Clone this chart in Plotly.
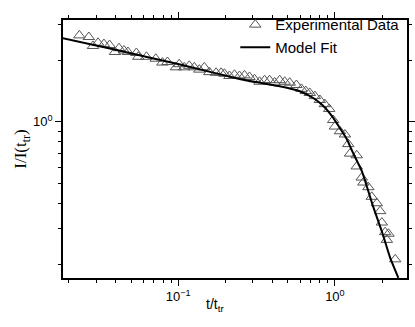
import plotly.graph_objects as go

t_exp = [0.0234, 0.0269, 0.0286, 0.0308, 0.0336, 0.0365, 0.0395, 0.0419, 0.0451,
         0.0478, 0.0541, 0.0556, 0.0627, 0.0719, 0.0793, 0.0854, 0.0967,
         0.1015, 0.1093, 0.1176, 0.1266, 0.1364, 0.1468, 0.158, 0.1745, 0.1878,
         0.1972, 0.2123, 0.2286, 0.246, 0.2649, 0.2852, 0.3069, 0.3305, 0.3558,
         0.3831, 0.4124, 0.444, 0.4781, 0.5147, 0.5681,
         0.6115, 0.6516, 0.6913, 0.7445, 0.8014, 0.8629, 0.9193, 0.9752, 1.0,
         1.077, 1.159, 1.217, 1.248, 1.378,
         1.378, 1.483, 1.519, 1.635, 1.719, 1.851, 1.943, 1.993, 2.092, 2.197,
         2.145, 2.425]
i_exp = [2.646, 2.598, 2.349, 2.434, 2.400, 2.374, 2.194, 2.291, 2.233,
         2.194, 2.171, 2.079, 2.079, 2.034, 1.948, 1.961, 1.846,
         1.913, 1.846, 1.878, 1.846, 1.799, 1.846, 1.749, 1.736, 1.736,
         1.717, 1.675, 1.698, 1.675, 1.686, 1.657, 1.614, 1.569, 1.597,
         1.597, 1.557, 1.597, 1.569, 1.553, 1.513,
         1.449, 1.413, 1.383, 1.335, 1.278, 1.219, 1.155, 1.019, 0.947,
         0.898, 0.866, 0.777, 0.698, 0.685,
         0.604, 0.533, 0.504, 0.478, 0.429, 0.399, 0.365, 0.321, 0.288, 0.283,
         0.264, 0.212]

# model fit curve
t_fit = [0.018, 0.0419, 0.1014, 0.246, 0.35, 0.444, 0.597, 0.723, 0.838, 0.971,
         1.08, 1.19, 1.30, 1.49, 1.75, 2.00, 2.25, 2.54]
i_fit = [2.57, 2.23, 1.91, 1.62, 1.54, 1.49, 1.41, 1.31, 1.20, 1.05,
         0.927, 0.823, 0.708, 0.570, 0.386, 0.288, 0.216, 0.172]

x_major = [0.1, 1]
x_major_text = ["10<sup>\u22121</sup>", "10<sup>0</sup>"]
x_minor = [0.02, 0.03, 0.04, 0.05, 0.06, 0.07, 0.08, 0.09,
           0.2, 0.3, 0.4, 0.5, 0.6, 0.7, 0.8, 0.9, 2]
y_major = [1]
y_major_text = ["10<sup>0</sup>"]
y_minor = [0.2, 0.3, 0.4, 0.5, 0.6, 0.7, 0.8, 0.9, 2, 3]

fig = go.Figure()
fig.add_trace(go.Scatter(
    x=t_exp, y=i_exp, mode="markers", name="Experimental Data",
    marker=dict(symbol="triangle-up-open", size=10, color="#555555",
                line=dict(width=1, color="#555555")),
))
fig.add_trace(go.Scatter(
    x=t_fit, y=i_fit, mode="lines", name="Model Fit",
    line=dict(color="black", width=2, shape="spline", smoothing=0.4),
))

axis_common = dict(
    type="log", showgrid=False, zeroline=False, automargin=False,
    showline=True, linecolor="black", linewidth=1.5, mirror="ticks",
    ticks="outside", ticklen=6, tickwidth=1.2, tickcolor="black",
    tickfont=dict(family="Liberation Sans, Arial", size=13, color="black"),
)

fig.update_xaxes(
    **axis_common,
    range=[-1.735, 0.46],
    tickmode="array", tickvals=x_major, ticktext=x_major_text,
    minor=dict(tickmode="array", tickvals=x_minor, ticks="outside",
               ticklen=3, tickwidth=1.2, tickcolor="black"),
)
fig.update_yaxes(
    **axis_common,
    range=[-0.765, 0.498],
    tickmode="array", tickvals=y_major, ticktext=y_major_text,
    minor=dict(tickmode="array", tickvals=y_minor, ticks="outside",
               ticklen=3, tickwidth=1.2, tickcolor="black"),
    title=dict(text="I/I(t<sub>tr</sub>)", standoff=2,
               font=dict(family="Liberation Serif, Times New Roman", size=17, color="black")),
)

fig.add_annotation(
    text="t/t<sub>tr</sub>", xref="paper", yref="paper",
    x=0.442, y=-0.105, xanchor="center", yanchor="middle", showarrow=False,
    font=dict(family="Liberation Sans, Arial", size=14, color="black"),
)

fig.update_layout(
    width=415, height=327,
    margin=dict(l=63, r=8, t=9, b=49),
    paper_bgcolor="white", plot_bgcolor="white",
    showlegend=True,
    legend=dict(x=0.995, y=1.045, xanchor="right", yanchor="top",
                bgcolor="rgba(0,0,0,0)", itemwidth=30, tracegroupgap=0,
                font=dict(family="Liberation Sans, Arial", size=15, color="black")),
)

# drop the page's default body margin so the figure sits at the window corner
fig.write_html("out.html", config={"displayModeBar": False},
               post_script="document.body.style.margin='0px';")
